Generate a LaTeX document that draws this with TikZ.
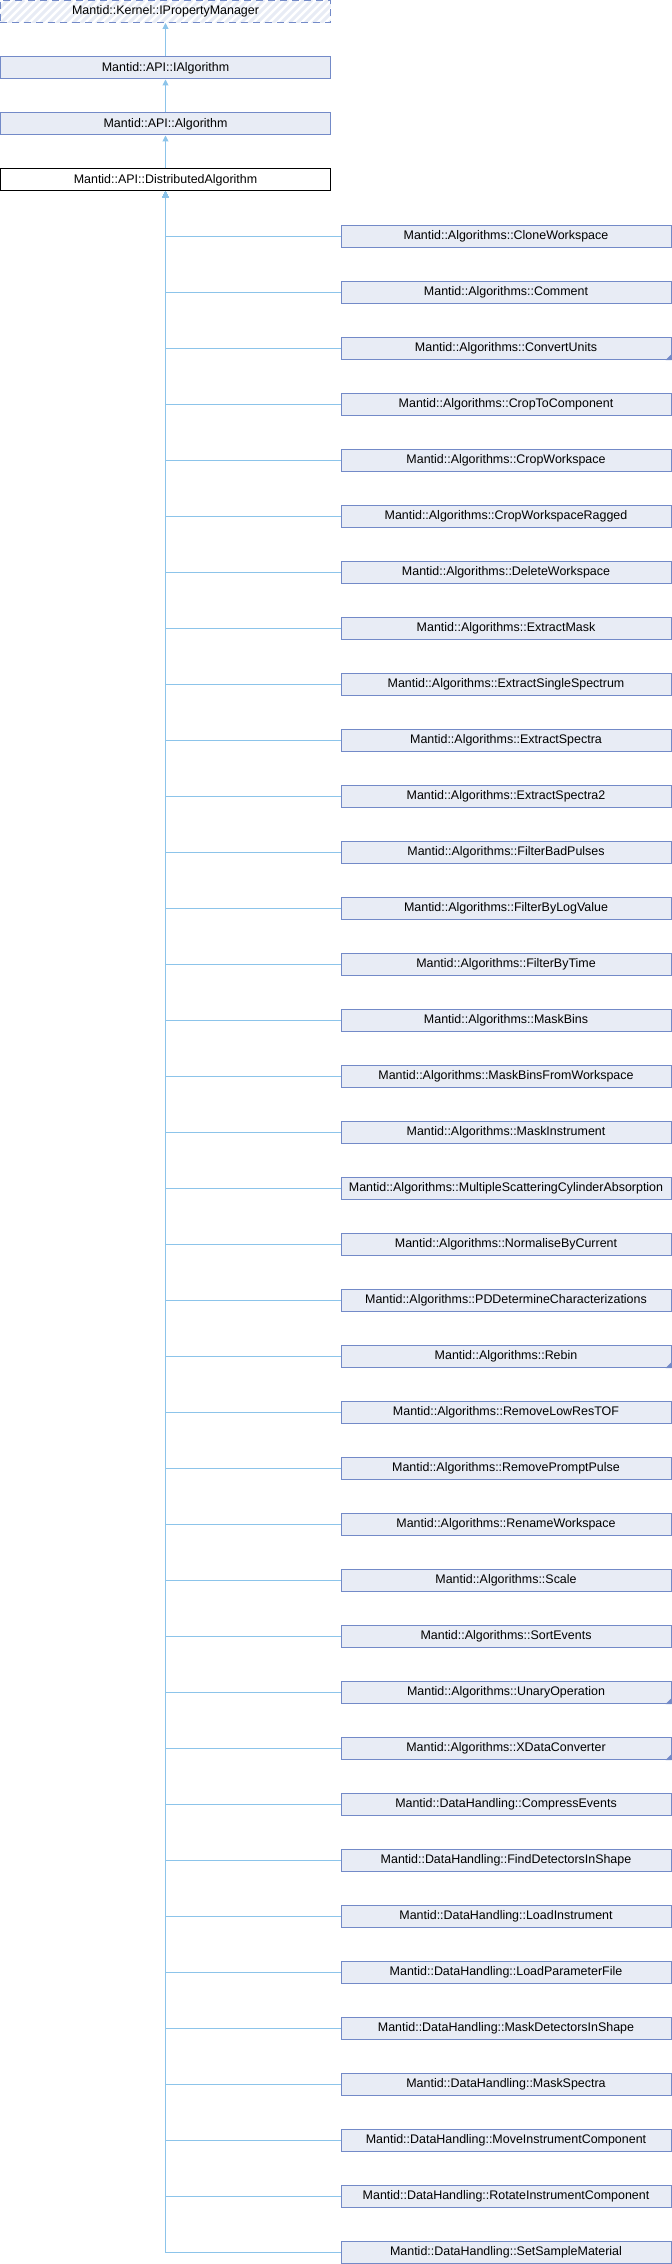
\documentclass[tikz,border=0pt]{standalone}
\usepackage{fontspec}
\setmainfont{Liberation Sans}
\usetikzlibrary{arrows.meta}
\definecolor{boxfill}{RGB}{232,236,245}
\definecolor{boxline}{RGB}{115,138,200}
\definecolor{edgec}{RGB}{140,196,234}
\tikzset{
  cls/.style={draw=boxline, fill=boxfill, line width=1bp, minimum width=330bp,
    minimum height=22bp, inner sep=0pt, font=\fontsize{12.5}{14}\selectfont, text=black},
  cur/.style={cls, draw=black, fill=white},
  ext/.style={cls, fill=none, dash pattern=on 7bp off 5bp},
  edge/.style={draw=edgec, line width=1bp, -{Triangle[length=6bp,width=6bp]}},
  hatch/.style={draw=boxfill, line width=3bp},
  marker/.style={fill=boxline, draw=none}
}
\begin{document}
\begin{tikzpicture}[x=1bp,y=-1bp]
\useasboundingbox (0,0) rectangle (672,2264);
% hatched external base
\begin{scope}
  \clip (0.5,0.5) rectangle (330.5,22.5);
  \foreach \k in {-4,...,45} \draw[hatch] (\k*8,24) -- ++(24,-24);
\end{scope}
\node[ext] (ipm) at (165.5,11.5) {Mantid::Kernel::IPropertyManager};
\node[cls] (ia) at (165.5,68) {Mantid::API::IAlgorithm};
\node[cls] (alg) at (165.5,124) {Mantid::API::Algorithm};
\node[cur] (dist) at (165.5,180) {Mantid::API::DistributedAlgorithm};
\draw[edge] (ia.north) -- (ipm.south);
\draw[edge] (alg.north) -- (ia.south);
\draw[edge] (dist.north) -- (alg.south);
\foreach \nm/\m [count=\i from 0] in {
  Algorithms::CloneWorkspace/0,
  Algorithms::Comment/0,
  Algorithms::ConvertUnits/1,
  Algorithms::CropToComponent/0,
  Algorithms::CropWorkspace/0,
  Algorithms::CropWorkspaceRagged/0,
  Algorithms::DeleteWorkspace/0,
  Algorithms::ExtractMask/0,
  Algorithms::ExtractSingleSpectrum/0,
  Algorithms::ExtractSpectra/0,
  Algorithms::ExtractSpectra2/0,
  Algorithms::FilterBadPulses/0,
  Algorithms::FilterByLogValue/0,
  Algorithms::FilterByTime/0,
  Algorithms::MaskBins/0,
  Algorithms::MaskBinsFromWorkspace/0,
  Algorithms::MaskInstrument/0,
  Algorithms::MultipleScatteringCylinderAbsorption/0,
  Algorithms::NormaliseByCurrent/0,
  Algorithms::PDDetermineCharacterizations/0,
  Algorithms::Rebin/1,
  Algorithms::RemoveLowResTOF/0,
  Algorithms::RemovePromptPulse/0,
  Algorithms::RenameWorkspace/0,
  Algorithms::Scale/0,
  Algorithms::SortEvents/0,
  Algorithms::UnaryOperation/1,
  Algorithms::XDataConverter/1,
  DataHandling::CompressEvents/0,
  DataHandling::FindDetectorsInShape/0,
  DataHandling::LoadInstrument/0,
  DataHandling::LoadParameterFile/0,
  DataHandling::MaskDetectorsInShape/0,
  DataHandling::MaskSpectra/0,
  DataHandling::MoveInstrumentComponent/0,
  DataHandling::RotateInstrumentComponent/0,
  DataHandling::SetSampleMaterial/0} {
  \node[cls] (c\i) at (506,236.5+56*\i) {Mantid::\nm};
  \ifnum\m=1
    \fill[marker] ([xshift=-6bp]c\i.south east) -- (c\i.south east) -- ([yshift=6bp]c\i.south east) -- cycle;
  \fi
  \draw[edge] (c\i.west) -| (dist.south);
}
\end{tikzpicture}
\end{document}
